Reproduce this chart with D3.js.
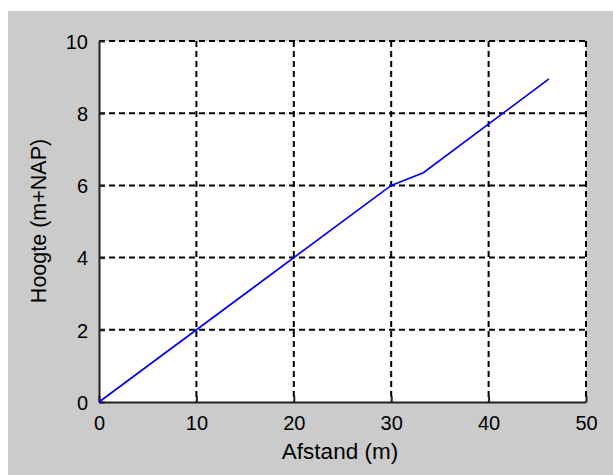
<!DOCTYPE html>
<html>
<head>
<meta charset="utf-8">
<script src="https://cdn.jsdelivr.net/npm/d3@7"></script>
<style>
  body { margin: 0; background: #fff; }
  text { font-family: "Liberation Sans", Arial, sans-serif; fill: #000; }
</style>
</head>
<body>
<div class="chart"></div>
<script>
(function() {

// profile data
var afstand = [0, 30, 33.3, 46.2];
var hoogte  = [0, 6.0, 6.35, 8.95];
var xTicks = [0, 10, 20, 30, 40, 50];
var yTicks = [0, 2, 4, 6, 8, 10];

var width = 613, height = 475;
var left = 99, right = 586, top = 41, bottom = 402;

var svg = d3.select('.chart')
  .append('svg')
  .attr('width', width)
  .attr('height', height);

// grey figure background
svg.append('rect')
  .attr('x', 8)
  .attr('y', 11)
  .attr('width', width - 8)
  .attr('height', height - 11)
  .attr('fill', '#cbcbcb');

var x = d3.scaleLinear().domain([0, 50]).range([left, right]);
var y = d3.scaleLinear().domain([0, 10]).range([bottom, top]);

// white axes area
svg.append('rect')
  .attr('x', left)
  .attr('y', top)
  .attr('width', right - left)
  .attr('height', bottom - top)
  .attr('fill', '#fff');

// dashed grid
svg.selectAll('line.gx').data(xTicks.slice(1)).enter()
  .append('line')
  .attr('class', 'gx')
  .attr('x1', function(d){ return x(d); })
  .attr('x2', function(d){ return x(d); })
  .attr('y1', top)
  .attr('y2', bottom)
  .attr('stroke', '#000')
  .attr('stroke-width', 2)
  .attr('stroke-dasharray', '6,4');

svg.selectAll('line.gy').data(yTicks.slice(1)).enter()
  .append('line')
  .attr('class', 'gy')
  .attr('x1', left)
  .attr('x2', right)
  .attr('y1', function(d){ return y(d); })
  .attr('y2', function(d){ return y(d); })
  .attr('stroke', '#000')
  .attr('stroke-width', 2)
  .attr('stroke-dasharray', '6,4');

// axes, ticks pointing inwards
var xAxis = svg.append('g')
  .attr('transform', 'translate(0,' + bottom + ')')
  .call(d3.axisBottom(x).tickValues(xTicks).tickSizeInner(-6).tickSizeOuter(0).tickPadding(14));

var yAxis = svg.append('g')
  .attr('transform', 'translate(' + left + ',0)')
  .call(d3.axisLeft(y).tickValues(yTicks).tickSizeInner(-6).tickSizeOuter(0).tickPadding(11));

[xAxis, yAxis].forEach(function(g) {
  g.select('.domain').attr('stroke', '#222').attr('stroke-width', 2);
  g.selectAll('.tick line').attr('stroke', '#222').attr('stroke-width', 2);
  g.selectAll('.tick text')
    .style('font-size', '20px')
    .style('font-family', '"Liberation Sans", Arial, sans-serif')
    .attr('fill', '#000');
});
yAxis.selectAll('.tick text').attr('dy', '0.36em');

// the profile line
var line = d3.line()
  .x(function(d){ return x(d[0]); })
  .y(function(d){ return y(d[1]); });

svg.append('path')
  .datum(d3.zip(afstand, hoogte))
  .attr('d', line)
  .attr('fill', 'none')
  .attr('stroke', '#0000ff')
  .attr('stroke-width', 1.7);

// axis labels
svg.append('text')
  .attr('x', 340)
  .attr('y', 459)
  .attr('text-anchor', 'middle')
  .style('font-size', '22.5px')
  .text('Afstand (m)');

svg.append('text')
  .attr('transform', 'translate(46,221) rotate(-90)')
  .attr('text-anchor', 'middle')
  .style('font-size', '21.5px')
  .text('Hoogte (m+NAP)');

})();
</script>
</body>
</html>
